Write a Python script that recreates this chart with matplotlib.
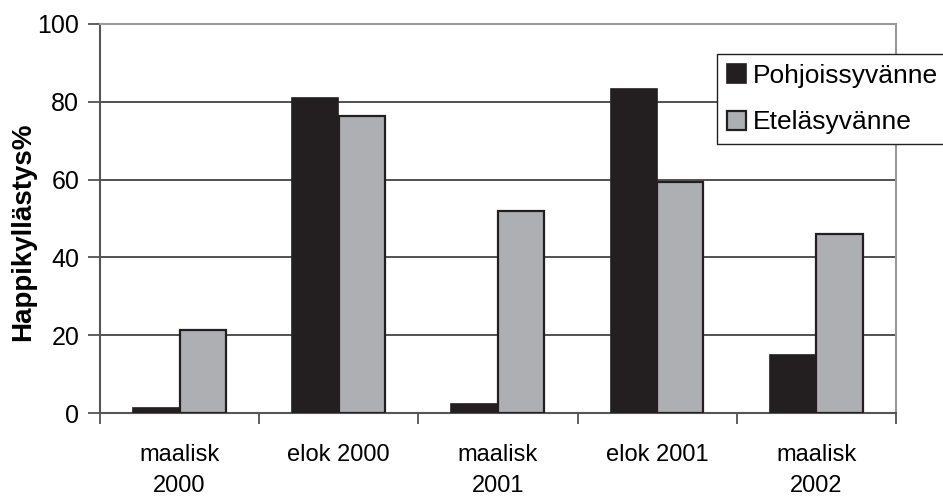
import numpy as np
import matplotlib.pyplot as plt
from matplotlib.ticker import FixedLocator

categories = ['maalisk\n2000', 'elok 2000', 'maalisk\n2001', 'elok 2001', 'maalisk\n2002']
pohjoissyvanne = [1.4, 81.1, 2.4, 83.3, 15.0]
etelasyvanne = [21.3, 76.3, 52.0, 59.5, 46.0]
yticks = [0, 20, 40, 60, 80, 100]

plt.rcParams['font.family'] = ['Liberation Sans', 'DejaVu Sans']

fig = plt.figure(figsize=(9.43, 4.98), dpi=100)
ax = fig.add_axes([100 / 943, 85 / 498, 796 / 943, 389 / 498])

x = np.arange(len(categories))
w = 0.29
ax.bar(x - 0.148, pohjoissyvanne, w, color='#231f20', edgecolor='#231f20',
       linewidth=1.2, label='Pohjoissyvänne', zorder=3)
ax.bar(x + 0.145, etelasyvanne, w, color='#aeafb3', edgecolor='#231f20',
       linewidth=1.6, label='Eteläsyvänne', zorder=3)

ax.set_xlim(-0.5, len(categories) - 0.5)
ax.set_ylim(0, 100)
ax.set_yticks(yticks)
ax.tick_params(axis='y', labelsize=18, length=9, width=1.2, color='#444444', pad=6)

# tick marks between the groups, labels under each group
ax.xaxis.set_major_locator(FixedLocator(np.arange(-0.5, len(categories), 1.0)))
ax.xaxis.set_minor_locator(FixedLocator(x))
ax.set_xticklabels([], minor=False)
ax.set_xticklabels(categories, minor=True, fontsize=17, linespacing=1.55)
ax.tick_params(axis='x', which='major', length=8, width=1.2, color='#444444')
ax.tick_params(axis='x', which='minor', length=0, pad=22)

ax.yaxis.grid(True, color='#333333', linewidth=1.2, zorder=0)
for s in ['top', 'right']:
    ax.spines[s].set_color('#999999')
    ax.spines[s].set_linewidth(1.5)
for s in ['left', 'bottom']:
    ax.spines[s].set_color('#555555')
    ax.spines[s].set_linewidth(1.5)

fig.text(23 / 943, 1 - 232 / 498, 'Happikyllästys%', rotation=90, fontsize=20,
         fontweight='bold', ha='center', va='center')

leg = ax.legend(loc='upper left', bbox_to_anchor=(717 / 943, 1 - 54 / 498),
                bbox_transform=fig.transFigure, fontsize=19, frameon=True,
                fancybox=False, edgecolor='#231f20', framealpha=1,
                handlelength=0.72, handleheight=0.72, handletextpad=0.25,
                borderpad=0.38, labelspacing=0.85, borderaxespad=0)
leg.get_frame().set_linewidth(1.0)

fig.savefig('out.png', dpi=100)
